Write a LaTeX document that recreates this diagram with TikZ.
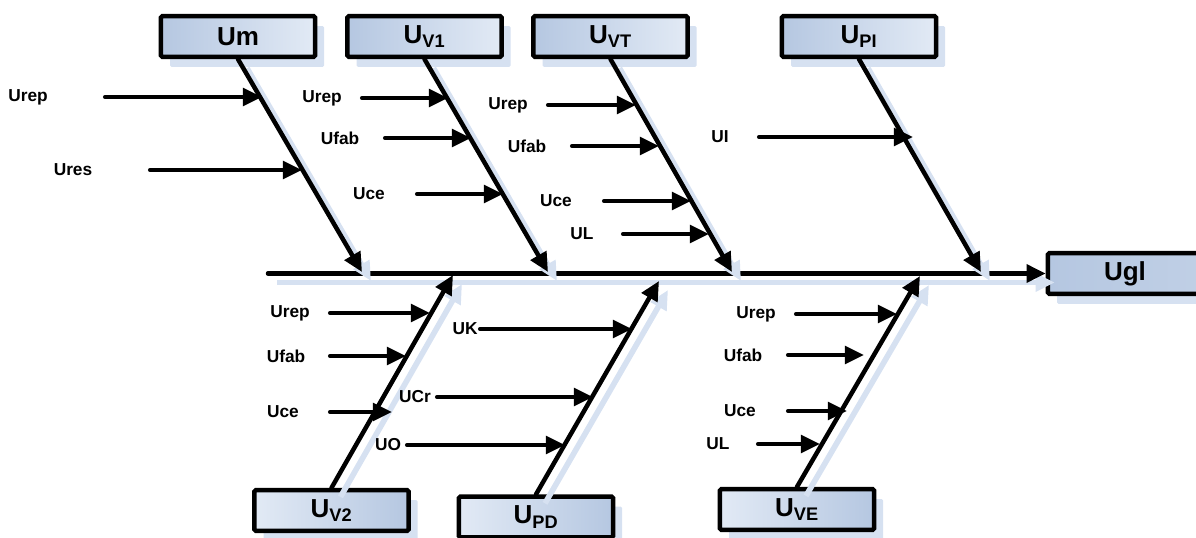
\documentclass[tikz,border=0pt]{standalone}
\usepackage{fontspec}
\setmainfont{Liberation Sans}
\usetikzlibrary{arrows.meta, shadows}
\definecolor{boxDark}{RGB}{181, 199, 225}
\definecolor{boxLight}{RGB}{226, 234, 245}
\definecolor{shadeBlue}{RGB}{214, 225, 241}

\begin{document}
\begin{tikzpicture}[x=0.025cm, y=-0.025cm,
        cause/.style={rectangle, draw, line width=3.2pt, rounded corners=1pt,
            minimum width=3.85cm, minimum height=1.02cm,
            font=\fontsize{18.5}{20}\selectfont\bfseries,
            drop shadow={shadow xshift=0.23cm, shadow yshift=-0.25cm, fill=shadeBlue, opacity=1}},
        topbox/.style={cause, left color=boxDark, right color=boxLight},
        botbox/.style={cause, left color=boxLight, right color=boxDark},
        lbl/.style={font=\fontsize{12.3}{14}\selectfont\bfseries, inner sep=0pt},
        arr/.style={-{Triangle[length=0.48cm, width=0.44cm]}, line width=2.9pt, line cap=round},
        bone/.style={arr, line width=3.2pt,
            preaction={draw=shadeBlue, line width=4pt, transform canvas={shift={(9,9)}}}}
    ]
    \useasboundingbox (0,0) rectangle (1196,538);
    % causes
    \node[topbox] (um) at (238,36.5) {Um};
    \node[topbox] (v1) at (424.5,36.5) {U\textsubscript{V1}};
    \node[topbox] (vt) at (610.5,36.5) {U\textsubscript{VT}};
    \node[topbox] (pi) at (859,36.5) {U\textsubscript{PI}};
    \node[botbox] (v2) at (331.5,510.5) {U\textsubscript{V2}};
    \node[botbox] (pd) at (536,517) {U\textsubscript{PD}};
    \node[botbox] (ve) at (797,509.5) {U\textsubscript{VE}};
    \node[cause, left color=boxDark, right color=boxDark!85!white] (ugl) at (1125,273.5) {Ugl};
    % spine and bones
    \coordinate (tail) at (268,273.5);
    \coordinate (umtip) at (362,272);
    \coordinate (v1tip) at (548,272);
    \coordinate (vttip) at (732,272);
    \coordinate (pitip) at (981,272);
    \coordinate (v2tip) at (453,275);
    \coordinate (pdtip) at (659,281);
    \coordinate (vetip) at (920,276);
    \draw[bone] (tail) -- (ugl.west);
    \draw[bone] (um.south) -- (umtip);
    \draw[bone] (v1.south) -- (v1tip);
    \draw[bone] (vt.south) -- (vttip);
    \draw[bone] (pi.south) -- (pitip);
    \draw[bone] (v2.north) -- (v2tip);
    \draw[bone] (pd.north) -- (pdtip);
    \draw[bone] (ve.north) -- (vetip);
    % sub-causes
    \foreach \n/\lx/\ly/\txt/\ax/\bx in {
        a/28/97/Urep/105/262, b/73/170/Ures/150/302,
        c/322/98/Urep/362/448, d/340/138/Ufab/385/471, e/369/194/Uce/417/503,
        f/508/105/Urep/548/636, g/527/146/Ufab/572/659, h/556/201/Uce/604/691, i/582/234/UL/623/709,
        j/720/137/UI/759/913,
        k/290/313/Urep/330/430, l/286/356/Ufab/330/406, m/283/412/Uce/330/392,
        n/465/329/UK/480/632, o/415/397/UCr/437/593, p/388/445/UO/407/565,
        q/756/314/Urep/796/897, r/743/355/Ufab/788/864, s/740/411/Uce/788/847, t/718/444/UL/758/820} {
        \node[lbl] (lb\n) at (\lx,\ly) {\txt};
        \coordinate (s\n) at (\ax,\ly);
        \coordinate (h\n) at (\bx,\ly);
        \draw[arr] (s\n) -- (h\n);
    }
\end{tikzpicture}
\end{document}
